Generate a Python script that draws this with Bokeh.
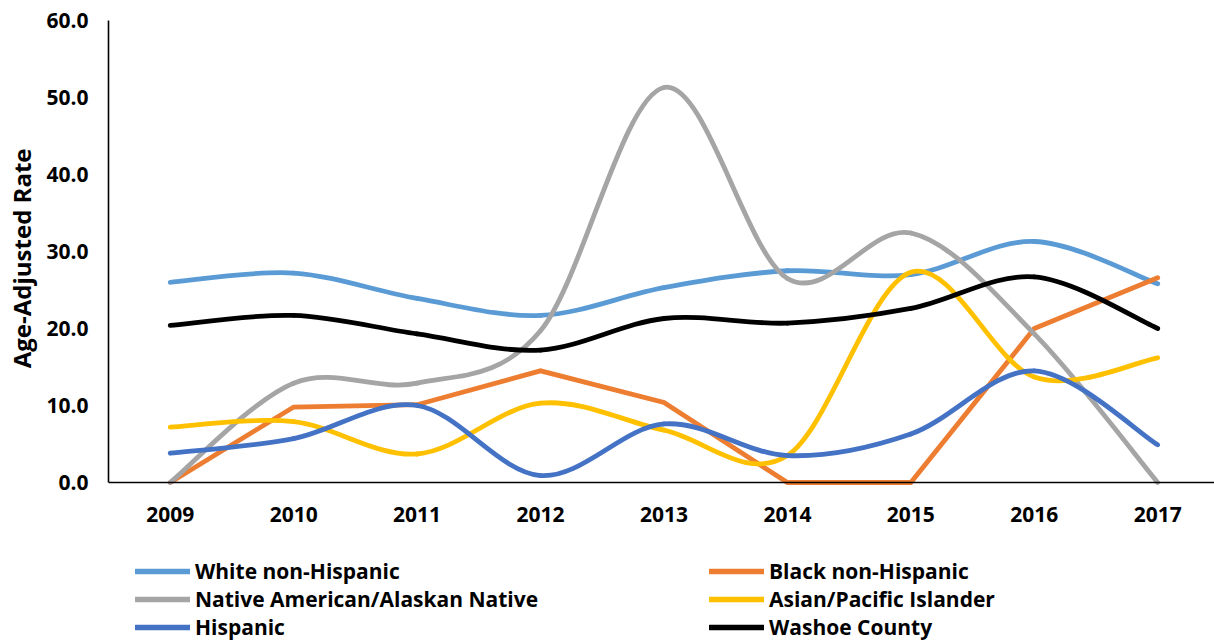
from bokeh.plotting import figure
from bokeh.models import (Legend, LegendItem, FixedTicker, PrintfTickFormatter,
                          Range1d, ColumnDataSource, Title)
from bokeh.embed import file_html
from bokeh.resources import INLINE

years = [2009, 2010, 2011, 2012, 2013, 2014, 2015, 2016, 2017]
white = [26.0, 27.2, 23.9, 21.7, 25.3, 27.5, 27.0, 31.3, 25.8]
black = [0.0, 9.8, 10.1, 14.5, 10.4, 0.0, 0.0, 20.0, 26.6]
native = [0.0, 12.9, 12.9, 19.7, 51.3, 26.5, 32.4, 19.3, 0.0]
asian = [7.2, 7.9, 3.7, 10.3, 6.8, 3.5, 27.3, 13.7, 16.2]
hispanic = [3.8, 5.7, 10.0, 0.9, 7.6, 3.5, 6.3, 14.5, 4.9]
washoe = [20.4, 21.7, 19.3, 17.2, 21.3, 20.7, 22.6, 26.7, 20.0]
y_ticks = [0, 10, 20, 30, 40, 50, 60]

names = ["White non-Hispanic", "Black non-Hispanic", "Native American/Alaskan Native",
         "Asian/Pacific Islander", "Hispanic", "Washoe County"]
series = [white, black, native, asian, hispanic, washoe]
colors = ["#5B9BD5", "#ED7D31", "#A5A5A5", "#FFC000", "#4472C4", "#000000"]
smooth = [True, False, True, True, True, True]

FONT = "Open Sans"
LW = 4.8
FS = "21px"

# plot area: value axis 0..60 spans 462 px; frame extends below to hold legend
Y_MAX = 60
FRAME_H = 622
Y_MIN = -(FRAME_H - 462) / (462 / Y_MAX)

p = figure(width=1214, height=642,
           output_backend="svg", toolbar_location=None,
           x_range=Range1d(2008.5, 2017.46), y_range=Range1d(Y_MIN, Y_MAX))
p.min_border_left = 108
p.min_border_right = 0
p.min_border_top = 20
p.min_border_bottom = 0
p.outline_line_color = None
p.grid.grid_line_color = None
p.background_fill_color = "white"
p.border_fill_color = "white"


def bezier_source(xs, ys):
    n = len(xs)
    d = dict(x0=[], y0=[], x1=[], y1=[], cx0=[], cy0=[], cx1=[], cy1=[])
    for i in range(n - 1):
        p0 = i - 1 if i > 0 else i
        p3 = i + 2 if i + 2 < n else i + 1
        d["x0"].append(xs[i]); d["y0"].append(ys[i])
        d["x1"].append(xs[i + 1]); d["y1"].append(ys[i + 1])
        d["cx0"].append(xs[i] + (xs[i + 1] - xs[p0]) / 6.0)
        d["cy0"].append(ys[i] + (ys[i + 1] - ys[p0]) / 6.0)
        d["cx1"].append(xs[i + 1] - (xs[p3] - xs[i]) / 6.0)
        d["cy1"].append(ys[i + 1] - (ys[p3] - ys[i]) / 6.0)
    return ColumnDataSource(d)


nan = float("nan")
proxies = []
for name, ys, c, sm in zip(names, series, colors, smooth):
    if sm:
        p.bezier(x0="x0", y0="y0", x1="x1", y1="y1", cx0="cx0", cy0="cy0",
                 cx1="cx1", cy1="cy1", source=bezier_source(years, ys),
                 line_color=c, line_width=LW, line_cap="round")
    else:
        p.line(years, ys, line_color=c, line_width=LW, line_cap="round",
               line_join="miter")
    # legend swatch (not drawn in the plot)
    proxies.append(p.line([nan, nan], [nan, nan], line_color=c, line_width=LW + 0.5,
                          line_cap="round"))

# axes
for ax in (p.xaxis[0], p.yaxis[0]):
    ax.axis_line_color = "black"
    ax.axis_line_width = 1.6
    ax.major_tick_line_color = None
    ax.minor_tick_line_color = None
    ax.major_tick_out = 0
    ax.major_tick_in = 0
    ax.minor_tick_out = 0
    ax.minor_tick_in = 0
    ax.major_label_text_font = FONT
    ax.major_label_text_font_style = "bold"
    ax.major_label_text_font_size = FS
    ax.major_label_text_color = "black"

p.xaxis.ticker = FixedTicker(ticks=years)
p.xaxis.fixed_location = 0
p.xaxis.major_label_standoff = 24
p.yaxis.ticker = FixedTicker(ticks=y_ticks)
p.yaxis.bounds = (0, Y_MAX)
p.yaxis.formatter = PrintfTickFormatter(format="%.1f")
p.yaxis.major_label_standoff = 20

ytitle = Title(text="Age-Adjusted Rate", align="right", offset=128,
               vertical_align="top", standoff=8,
               text_font=FONT, text_font_style="bold", text_font_size="24px",
               text_color="black")
p.add_layout(ytitle, "left")

legend = Legend(items=[LegendItem(label=names[i], renderers=[proxies[i]]) for i in range(6)],
                location=(27, 1), orientation="horizontal", ncols=2,
                glyph_width=55, glyph_height=22, label_height=22, label_width=514,
                label_standoff=5, spacing=0, padding=0, margin=0,
                border_line_color=None, background_fill_alpha=0,
                label_text_font=FONT, label_text_font_style="bold",
                label_text_font_size=FS, label_text_color="black")
p.add_layout(legend, "center")

open("out.html", "w").write(file_html(p, INLINE))
